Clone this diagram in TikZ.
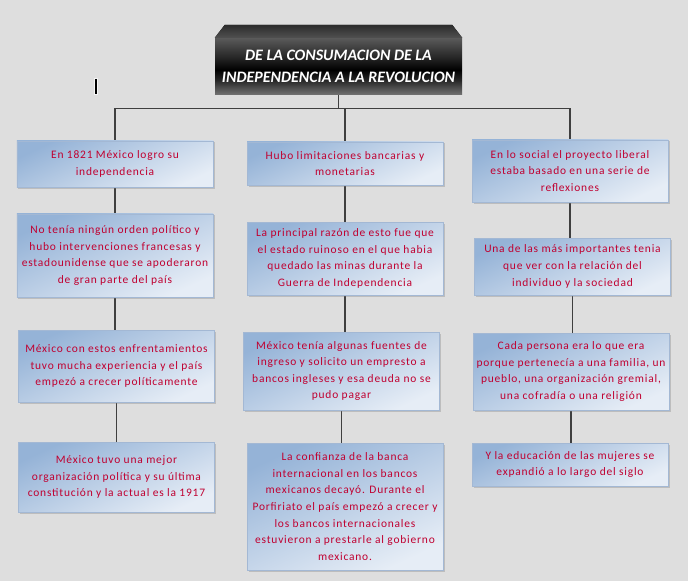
\documentclass[tikz,border=0pt]{standalone}
\usepackage{fontspec}
\setmainfont{Carlito}
\newfontfamily\spreadfont{Carlito}[LetterSpace=7]
\usepackage{tikz}
\usetikzlibrary{shadows,backgrounds}
\definecolor{Canvas}{HTML}{DEDEDE}
\definecolor{Steel}{HTML}{95B3D7}
\definecolor{Pale}{HTML}{E6EDF6}
\definecolor{Edge}{HTML}{A3B8D4}
\definecolor{Ink}{HTML}{C00030}
\definecolor{Wire}{HTML}{3F3F3F}
\definecolor{SlabLow}{HTML}{747474}
\definecolor{SlabDark}{HTML}{262626}
\definecolor{SlabHigh}{HTML}{5A5A5A}
\definecolor{BevelTop}{HTML}{2C2C2C}
\definecolor{BevelLow}{HTML}{505050}
\pgfdeclareverticalshading{slab}{100bp}{color(0bp)=(SlabLow); color(25bp)=(SlabLow);
  color(38bp)=(SlabDark); color(47bp)=(black); color(58bp)=(SlabDark);
  color(75bp)=(SlabHigh); color(100bp)=(SlabHigh)}

\begin{document}
\begin{tikzpicture}[x=1bp,y=-1bp,
  card/.style={draw=Edge,line width=.5bp,shading=axis,top color=Steel,bottom color=Pale,
    shading angle=25,drop shadow={shadow xshift=1.5bp,shadow yshift=-1.5bp,opacity=.35},
    minimum width=196bp,align=center,inner sep=0pt,text=Ink,
    font=\spreadfont\fontsize{11.5}{16.7}\selectfont},
  headline/.style={shading=slab,minimum width=247bp,minimum height=57bp,inner sep=0pt,
    align=center,text=white,font=\bfseries\itshape\fontsize{16}{22}\selectfont},
  link/.style={draw=Wire,line width=1.2bp}
]
\useasboundingbox (0,0) rectangle (688,581);
\node[headline] (title) at (338.5,66.5) {DE LA CONSUMACION DE LA\\INDEPENDENCIA A LA REVOLUCION};
\fill[top color=BevelTop,bottom color=BevelLow]
  ([xshift=10bp,yshift=13bp]title.north west) -- ([xshift=-10bp,yshift=13bp]title.north east)
  -- (title.north east) -- (title.north west) -- cycle;

% first column
\node[card,minimum height=46bp] (a1) at (115,164) {En 1821 México logro su\\independencia};
\node[card,minimum height=83bp] (a2) at (115,255.5) {No tenía ningún orden político y\\hubo intervenciones francesas y\\estadounidense que se apoderaron\\de gran parte del país};
\node[card,minimum height=72bp] (a3) at (116.5,366) {México con estos enfrentamientos\\tuvo mucha experiencia y el país\\empezó a crecer políticamente};
\node[card,minimum height=70bp] (a4) at (116.5,477) {México tuvo una mejor\\organización política y su última\\constitución y la actual es la 1917};

% second column
\node[card,minimum height=43bp] (b1) at (345,163.5) {Hubo limitaciones bancarias y\\monetarias};
\node[card,minimum height=73bp] (b2) at (345,258.5) {La principal razón de esto fue que\\el estado ruinoso en el que habia\\quedado las minas durante la\\Guerra de Independencia};
\node[card,minimum height=78bp] (b3) at (341.5,371) {México tenía algunas fuentes de\\ingreso y solicito un empresto a\\bancos ingleses y esa deuda no se\\pudo pagar};
\node[card,minimum height=127bp] (b4) at (345,506.5) {La confianza de la banca\\internacional en los bancos\\mexicanos decayó. Durante el\\Porfiriato el país empezó a crecer y\\los bancos internacionales\\estuvieron a prestarle al gobierno\\mexicano.};

% third column
\node[card,minimum height=62bp] (c1) at (570,171) {En lo social el proyecto liberal\\estaba basado en una serie de\\reflexiones};
\node[card,minimum height=57bp] (c2) at (572.5,266.5) {Una de las más importantes tenia\\que ver con la relación del\\individuo y la sociedad};
\node[card,minimum height=77bp] (c3) at (571,371.5) {Cada persona era lo que era\\porque pertenecía a una familia, un\\pueblo, una organización gremial,\\una cofradía o una religión};
\node[card,minimum height=43bp] (c4) at (570,464.5) {Y la educación de las mujeres se\\expandió a lo largo del siglo};

% cursor mark
\draw[white,line width=3.5bp,opacity=.7] (96,78) -- (96,95);
\draw[line width=1.8bp] (96,79) -- (96,94);

\begin{scope}[on background layer]
\fill[Canvas] (0,0) rectangle (688,581);
\draw[link] (title.south) -- ++(0,13) -| (a1.north);
\draw[link] (title.south) -- ++(0,13) -| (b1.north);
\draw[link] (title.south) -- ++(0,13) -| (c1.north);
\draw[link] (a1.south) -- (a1.south |- a2.north);
\draw[link] (a2.south) -- (a2.south |- a3.north);
\draw[link] (a3.south) -- (a3.south |- a4.north);
\draw[link] (b1.south) -- (b1.south |- b2.north);
\draw[link] (b2.south) -- (b2.south |- b3.north);
\draw[link] (b3.south) -- (b3.south |- b4.north);
\draw[link] (c1.south) -- (c1.south |- c2.north);
\draw[link] (c2.south) -- (c2.south |- c3.north);
\draw[link] (c3.south) -- (c3.south |- c4.north);
\end{scope}
\end{tikzpicture}
\end{document}
